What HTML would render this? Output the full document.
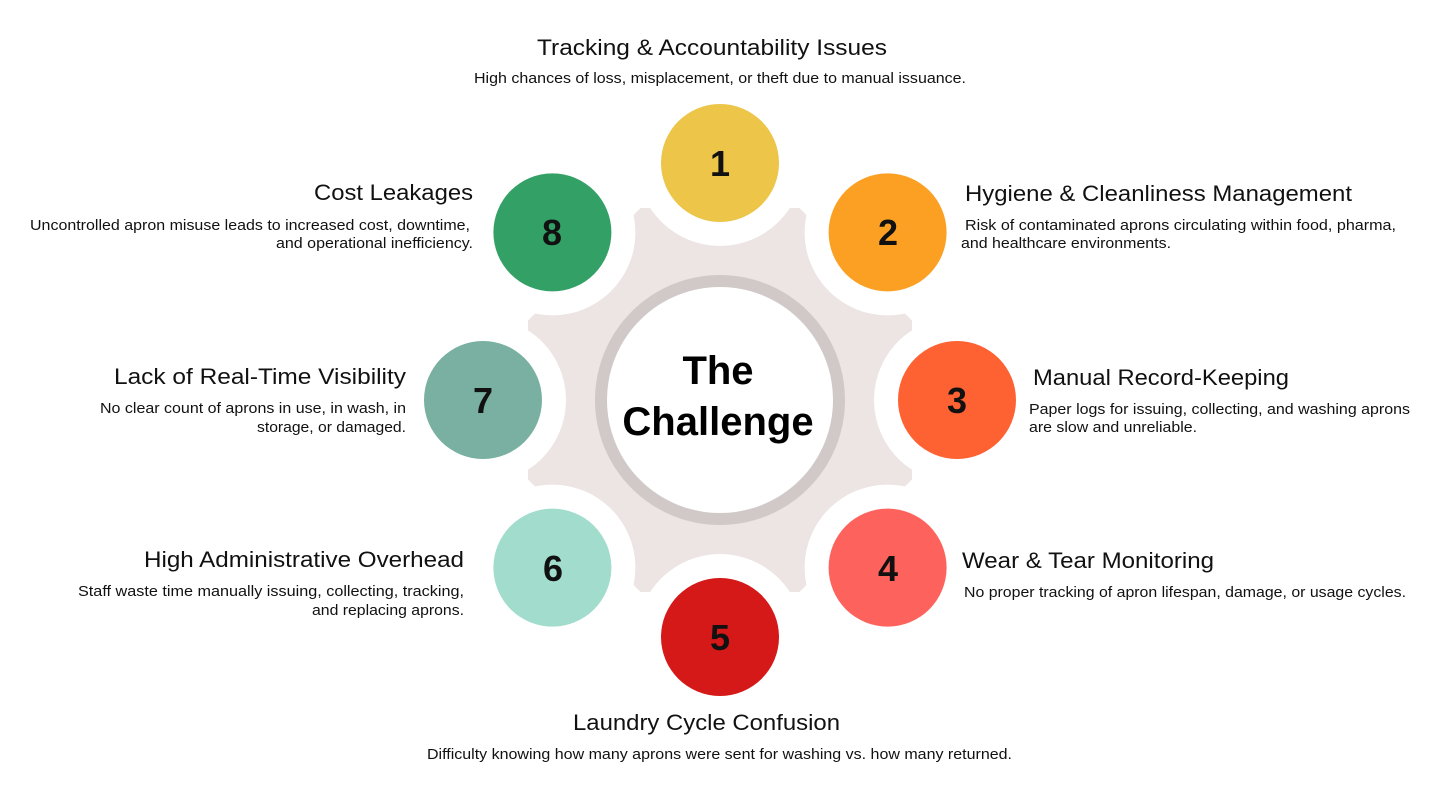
<!DOCTYPE html>
<html><head><meta charset="utf-8"><style>
html,body{margin:0;padding:0;background:#fff;}
svg{display:block;font-family:"Liberation Sans",sans-serif;}
.t{font-size:22px;font-weight:500;fill:#111;}
.d{font-size:15px;fill:#111;}
.n{font-size:36px;font-weight:bold;fill:#111;}
</style></head><body>
<svg width="1440" height="800" viewBox="0 0 1440 800" xmlns="http://www.w3.org/2000/svg">
<polygon fill="#ece5e3" points="912,320.5 799.5,208 640.5,208 528,320.5 528,479.5 640.5,592 799.5,592 912,479.5"/>
<g fill="#fff">
<circle cx="720" cy="163" r="83"/><circle cx="887.6" cy="232.4" r="83"/><circle cx="957" cy="400" r="83"/><circle cx="887.6" cy="567.6" r="83"/><circle cx="720" cy="637" r="83"/><circle cx="552.4" cy="567.6" r="83"/><circle cx="483" cy="400" r="83"/><circle cx="552.4" cy="232.4" r="83"/>
</g>
<circle cx="720" cy="400" r="119" fill="#fff" stroke="#d1c8c8" stroke-width="12"/>
<text x="718" y="384" text-anchor="middle" font-size="40" font-weight="bold" fill="#000">The</text>
<text x="718" y="435" text-anchor="middle" font-size="40" font-weight="bold" fill="#000">Challenge</text>
<circle cx="720" cy="163" r="59" fill="#ecc549"/>
<circle cx="887.6" cy="232.4" r="59" fill="#fca023"/>
<circle cx="957" cy="400" r="59" fill="#fe6233"/>
<circle cx="887.6" cy="567.6" r="59" fill="#fe625c"/>
<circle cx="720" cy="637" r="59" fill="#d51818"/>
<circle cx="552.4" cy="567.6" r="59" fill="#a2dccd"/>
<circle cx="483" cy="400" r="59" fill="#79b0a2"/>
<circle cx="552.4" cy="232.4" r="59" fill="#33a066"/>
<g class="n" text-anchor="middle">
<text x="720" y="176">1</text><text x="888" y="245">2</text><text x="957" y="413">3</text><text x="888" y="581">4</text><text x="720" y="650">5</text><text x="553" y="581">6</text><text x="483" y="413">7</text><text x="552" y="245">8</text>
</g>
<text class="t" x="537" y="55" textLength="350" lengthAdjust="spacingAndGlyphs">Tracking &amp; Accountability Issues</text>
<text class="d" x="474" y="83" textLength="492" lengthAdjust="spacingAndGlyphs">High chances of loss, misplacement, or theft due to manual issuance.</text>
<text class="t" x="965" y="201" textLength="387" lengthAdjust="spacingAndGlyphs">Hygiene &amp; Cleanliness Management</text>
<text class="d" x="965" y="230" textLength="431" lengthAdjust="spacingAndGlyphs">Risk of contaminated aprons circulating within food, pharma,</text>
<text class="d" x="961" y="248" textLength="210" lengthAdjust="spacingAndGlyphs">and healthcare environments.</text>
<text class="t" x="1033" y="385" textLength="256" lengthAdjust="spacingAndGlyphs">Manual Record-Keeping</text>
<text class="d" x="1029" y="414" textLength="381" lengthAdjust="spacingAndGlyphs">Paper logs for issuing, collecting, and washing aprons</text>
<text class="d" x="1029" y="432" textLength="168" lengthAdjust="spacingAndGlyphs">are slow and unreliable.</text>
<text class="t" x="962" y="568" textLength="252" lengthAdjust="spacingAndGlyphs">Wear &amp; Tear Monitoring</text>
<text class="d" x="964" y="597" textLength="442" lengthAdjust="spacingAndGlyphs">No proper tracking of apron lifespan, damage, or usage cycles.</text>
<text class="t" x="573" y="730" textLength="267" lengthAdjust="spacingAndGlyphs">Laundry Cycle Confusion</text>
<text class="d" x="427" y="759" textLength="585" lengthAdjust="spacingAndGlyphs">Difficulty knowing how many aprons were sent for washing vs. how many returned.</text>
<text class="t" x="144" y="567" textLength="320" lengthAdjust="spacingAndGlyphs">High Administrative Overhead</text>
<text class="d" x="78" y="596" textLength="386" lengthAdjust="spacingAndGlyphs">Staff waste time manually issuing, collecting, tracking,</text>
<text class="d" x="312" y="615" textLength="152" lengthAdjust="spacingAndGlyphs">and replacing aprons.</text>
<text class="t" x="114" y="384" textLength="292" lengthAdjust="spacingAndGlyphs">Lack of Real-Time Visibility</text>
<text class="d" x="100" y="413" textLength="306" lengthAdjust="spacingAndGlyphs">No clear count of aprons in use, in wash, in</text>
<text class="d" x="257" y="432" textLength="149" lengthAdjust="spacingAndGlyphs">storage, or damaged.</text>
<text class="t" x="314" y="200" textLength="159" lengthAdjust="spacingAndGlyphs">Cost Leakages</text>
<text class="d" x="30" y="230" textLength="440" lengthAdjust="spacingAndGlyphs">Uncontrolled apron misuse leads to increased cost, downtime,</text>
<text class="d" x="276" y="248" textLength="197" lengthAdjust="spacingAndGlyphs">and operational inefficiency.</text>
</svg>
</body></html>
